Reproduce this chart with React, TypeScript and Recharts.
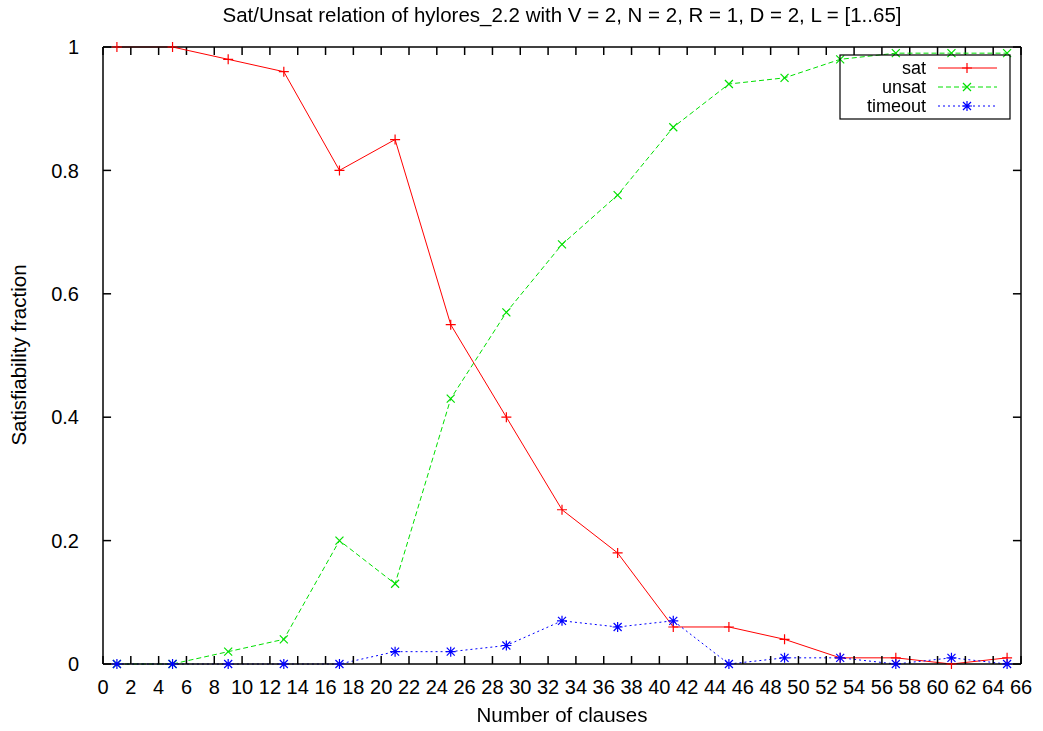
import React from 'react';
import { LineChart, Line, XAxis, YAxis, ReferenceLine } from 'recharts';

const clauses = [1, 5, 9, 13, 17, 21, 25, 29, 33, 37, 41, 45, 49, 53, 57, 61, 65];
const satValues = [1, 1, 0.98, 0.96, 0.8, 0.85, 0.55, 0.4, 0.25, 0.18, 0.06, 0.06, 0.04, 0.01, 0.01, 0, 0.01];
const unsatValues = [0, 0, 0.02, 0.04, 0.2, 0.13, 0.43, 0.57, 0.68, 0.76, 0.87, 0.94, 0.95, 0.98, 0.99, 0.99, 0.99];
const timeoutValues = [0, 0, 0, 0, 0, 0.02, 0.02, 0.03, 0.07, 0.06, 0.07, 0, 0.01, 0.01, 0, 0.01, 0];

const xTicks = [0, 2, 4, 6, 8, 10, 12, 14, 16, 18, 20, 22, 24, 26, 28, 30, 32, 34, 36, 38, 40, 42, 44, 46, 48, 50, 52, 54, 56, 58, 60, 62, 64, 66];
const yTicks = [0, 0.2, 0.4, 0.6, 0.8, 1];

const data = clauses.map((c, i) => ({
  clauses: c,
  sat: satValues[i],
  unsat: unsatValues[i],
  timeout: timeoutValues[i],
}));

const FONT = '"Liberation Sans", Arial, sans-serif';
const RED = '#ff0000';
const GREEN = '#00e000';
const BLUE = '#0000ff';
const S = 5;
// inward tick length (~8px) in data units
const TICK_DX = 0.58;
const TICK_PX = 8;

const plusPath = (x: number, y: number) => `M${x - S},${y}H${x + S}M${x},${y - S}V${y + S}`;
const crossPath = (x: number, y: number) =>
  `M${x - S * 0.8},${y - S * 0.8}L${x + S * 0.8},${y + S * 0.8}M${x - S * 0.8},${y + S * 0.8}L${x + S * 0.8},${y - S * 0.8}`;

const PlusDot = (props: any) => (
  <path key={props.index} d={plusPath(props.cx, props.cy)} stroke={RED} strokeWidth={1.2} fill="none" />
);
const CrossDot = (props: any) => (
  <path key={props.index} d={crossPath(props.cx, props.cy)} stroke={GREEN} strokeWidth={1.2} fill="none" />
);
const StarDot = (props: any) => (
  <path
    key={props.index}
    d={plusPath(props.cx, props.cy) + crossPath(props.cx, props.cy)}
    stroke={BLUE}
    strokeWidth={1.2}
    fill="none"
  />
);

// a vertical reference line cut down to a short tick hanging from the top frame
const TopTick = (p: any) => {
  const top = Math.min(Number(p.y1), Number(p.y2));
  return <line x1={p.x1} y1={top} x2={p.x2} y2={top + TICK_PX} stroke="#000" strokeWidth={1.5} />;
};

const tickStyle = { fill: '#000', fontSize: 20, fontFamily: FONT };

export default function App() {
  return (
    <div style={{ position: 'fixed', left: 0, top: 0, width: 1043, height: 731, background: '#fff', fontFamily: FONT }}>
      <LineChart width={1043} height={731} data={data} margin={{ top: 46, right: 21, bottom: 0, left: 0 }}>
        <XAxis
          xAxisId="bottom"
          dataKey="clauses"
          type="number"
          domain={[0, 66]}
          ticks={xTicks}
          interval={0}
          height={67}
          tickSize={-8}
          tickMargin={24}
          stroke="#000"
          strokeWidth={1.5}
          tick={tickStyle}
        />
        <XAxis
          xAxisId="top"
          orientation="top"
          type="number"
          domain={[0, 66]}
          height={1}
          tick={false}
          tickLine={false}
          stroke="#000"
          strokeWidth={1.5}
        />
        <YAxis
          yAxisId="left"
          type="number"
          domain={[0, 1]}
          ticks={yTicks}
          interval={0}
          width={103}
          tickLine={false}
          tickMargin={18}
          stroke="#000"
          strokeWidth={1.5}
          tick={tickStyle}
        />
        <YAxis
          yAxisId="right"
          orientation="right"
          type="number"
          domain={[0, 1]}
          width={1}
          tick={false}
          tickLine={false}
          stroke="#000"
          strokeWidth={1.5}
        />
        {xTicks.map((t) => (
          <ReferenceLine
            key={`top-${t}`}
            xAxisId="bottom"
            yAxisId="left"
            x={t}
            ifOverflow="visible"
            shape={TopTick}
          />
        ))}
        {yTicks.map((t) => (
          <ReferenceLine
            key={`left-${t}`}
            xAxisId="bottom"
            yAxisId="left"
            ifOverflow="visible"
            segment={[{ x: 0, y: t }, { x: TICK_DX, y: t }]}
            stroke="#000"
            strokeWidth={1.5}
          />
        ))}
        {yTicks.map((t) => (
          <ReferenceLine
            key={`right-${t}`}
            xAxisId="bottom"
            yAxisId="left"
            ifOverflow="visible"
            segment={[{ x: 66 - TICK_DX, y: t }, { x: 66, y: t }]}
            stroke="#000"
            strokeWidth={1.5}
          />
        ))}
        <Line
          xAxisId="bottom"
          yAxisId="left"
          dataKey="sat"
          stroke={RED}
          strokeWidth={1}
          dot={PlusDot}
          activeDot={false}
          isAnimationActive={false}
        />
        <Line
          xAxisId="bottom"
          yAxisId="left"
          dataKey="unsat"
          stroke={GREEN}
          strokeWidth={1}
          strokeDasharray="5 3"
          dot={CrossDot}
          activeDot={false}
          isAnimationActive={false}
        />
        <Line
          xAxisId="bottom"
          yAxisId="left"
          dataKey="timeout"
          stroke={BLUE}
          strokeWidth={1}
          strokeDasharray="2 3"
          dot={StarDot}
          activeDot={false}
          isAnimationActive={false}
        />
      </LineChart>

      <div style={{ position: 'absolute', left: 0, width: 1124, top: 3, textAlign: 'center', fontSize: 20.5 }}>
        Sat/Unsat relation of hylores_2.2 with V = 2, N = 2, R = 1, D = 2, L = [1..65]
      </div>
      <div style={{ position: 'absolute', left: 0, width: 1124, top: 703, textAlign: 'center', fontSize: 20.5 }}>
        Number of clauses
      </div>
      <div
        style={{
          position: 'absolute',
          left: 19,
          top: 355,
          fontSize: 20.5,
          whiteSpace: 'nowrap',
          transform: 'translate(-50%, -50%) rotate(-90deg)',
        }}
      >
        Satisfiability fraction
      </div>

      <svg style={{ position: 'absolute', left: 0, top: 0 }} width={1043} height={731}>
        <rect x={840} y={55} width={170} height={64} fill="none" stroke="#000" strokeWidth={1.2} />
        <text x={926} y={74} textAnchor="end" fontSize={18} fontFamily={FONT}>sat</text>
        <text x={926} y={93} textAnchor="end" fontSize={18} fontFamily={FONT}>unsat</text>
        <text x={926} y={112} textAnchor="end" fontSize={18} fontFamily={FONT}>timeout</text>
        <line x1={938} y1={68} x2={997} y2={68} stroke={RED} strokeWidth={1} />
        <path d={plusPath(967, 68)} stroke={RED} strokeWidth={1.2} fill="none" />
        <line x1={938} y1={87} x2={997} y2={87} stroke={GREEN} strokeWidth={1} strokeDasharray="5 3" />
        <path d={crossPath(967, 87)} stroke={GREEN} strokeWidth={1.2} fill="none" />
        <line x1={938} y1={106} x2={997} y2={106} stroke={BLUE} strokeWidth={1} strokeDasharray="2 3" />
        <path d={plusPath(967, 106) + crossPath(967, 106)} stroke={BLUE} strokeWidth={1.2} fill="none" />
      </svg>
    </div>
  );
}
